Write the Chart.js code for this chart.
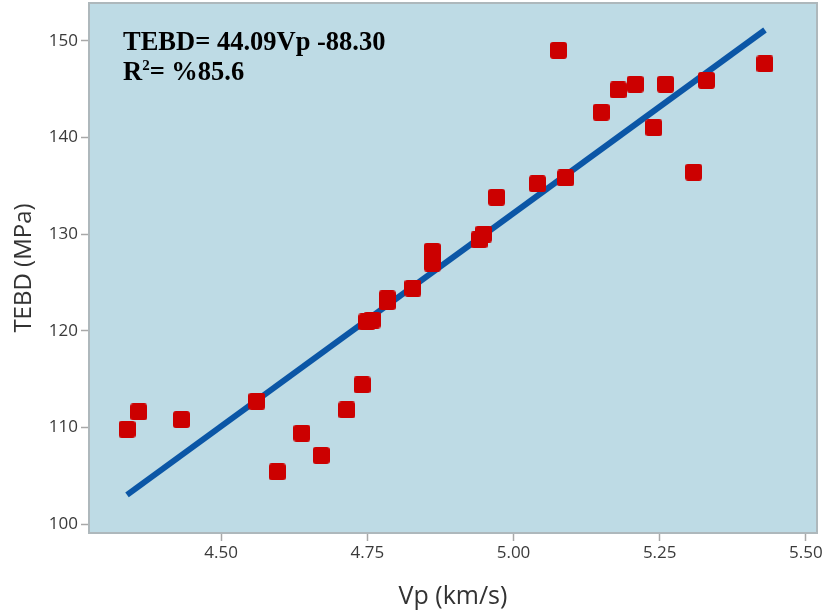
<!DOCTYPE html>
<html>
<head>
<meta charset="utf-8">
<title>TEBD vs Vp</title>
<script src="https://cdn.jsdelivr.net/npm/chart.js@4"></script>
<style>
  html, body { margin: 0; padding: 0; background: #ffffff; }
  #wrap { width: 824px; height: 616px; position: relative; }
</style>
</head>
<body>
<div id="wrap"><canvas id="chart"></canvas></div>
<script>
// P-wave velocity (km/s) of each specimen
const vp = [4.339, 4.359, 4.432, 4.561, 4.596, 4.638, 4.671, 4.715, 4.741, 4.749,
            4.758, 4.784, 4.784, 4.828, 4.861, 4.861, 4.941, 4.949, 4.971, 5.041,
            5.077, 5.089, 5.150, 5.179, 5.208, 5.240, 5.260, 5.308, 5.330, 5.430];
// Measured TEBD (MPa) of each specimen
const tebd = [109.8, 111.6, 110.8, 112.7, 105.4, 109.4, 107.1, 111.8, 114.4, 120.9,
              121.1, 123.3, 123.0, 124.4, 128.2, 127.0, 129.4, 130.0, 133.8, 135.2,
              149.0, 135.8, 142.6, 144.9, 145.5, 141.0, 145.5, 136.4, 145.9, 147.6];

// Regression coefficients: TEBD = slope * Vp + intercept
const slope = 44.09;
const intercept = -88.30;
const rSquared = 85.6;

// Axis tick values
const xTicks = [4.50, 4.75, 5.00, 5.25, 5.50];
const yTicks = [100, 110, 120, 130, 140, 150];

const points = vp.map((v, i) => ({ x: v, y: tebd[i] }));
const vpMin = Math.min(...vp);
const vpMax = Math.max(...vp);
const fitLine = [vpMin, vpMax].map(v => ({ x: v, y: slope * v + intercept }));

// Rounded square marker
function makeMarker(size, radius, color) {
  const c = document.createElement('canvas');
  c.width = size; c.height = size;
  const g = c.getContext('2d');
  g.fillStyle = color;
  g.beginPath();
  g.moveTo(radius, 0);
  g.arcTo(size, 0, size, size, radius);
  g.arcTo(size, size, 0, size, radius);
  g.arcTo(0, size, 0, 0, radius);
  g.arcTo(0, 0, size, 0, radius);
  g.closePath();
  g.fill();
  return c;
}
const marker = makeMarker(17, 3, '#CC0000');

// Plot-area fill and frame
const plotFrame = {
  id: 'plotFrame',
  beforeDatasetsDraw(chart) {
    const { ctx, chartArea: a } = chart;
    ctx.save();
    ctx.fillStyle = '#BEDBE5';
    ctx.fillRect(a.left, a.top, a.right - a.left, a.bottom - a.top);
    ctx.strokeStyle = '#AEB8BC';
    ctx.lineWidth = 2;
    ctx.strokeRect(a.left, a.top, a.right - a.left, a.bottom - a.top);
    ctx.restore();
  }
};

// Regression equation and R² text
const equationText = {
  id: 'equationText',
  afterDatasetsDraw(chart) {
    const { ctx } = chart;
    const x = 123;
    ctx.save();
    ctx.fillStyle = '#000000';
    ctx.textBaseline = 'alphabetic';
    ctx.textAlign = 'left';
    ctx.font = "bold 26.5px 'Liberation Serif', 'Times New Roman', serif";
    ctx.fillText('TEBD= ' + slope.toFixed(2) + 'Vp ' + intercept.toFixed(2), x, 50);
    ctx.fillText('R', x, 80);
    let cx = x + ctx.measureText('R').width;
    ctx.font = "bold 15px 'Liberation Serif', 'Times New Roman', serif";
    ctx.fillText('2', cx, 70);
    cx += ctx.measureText('2').width;
    ctx.font = "bold 26.5px 'Liberation Serif', 'Times New Roman', serif";
    ctx.fillText('= %' + rSquared.toFixed(1), cx, 80);
    ctx.restore();
  }
};

const tickFont = { family: "'Open Sans', sans-serif", size: 17 };
const titleFont = { family: "'Open Sans', sans-serif", size: 24 };

new Chart(document.getElementById('chart'), {
  type: 'scatter',
  data: {
    datasets: [
      {
        label: 'TEBD',
        data: points,
        order: 0,
        pointStyle: marker,
        pointRadius: 9,
        pointHoverRadius: 9
      },
      {
        type: 'line',
        label: 'Fit',
        data: fitLine,
        order: 1,
        borderColor: '#0B56A6',
        borderWidth: 6,
        borderCapStyle: 'butt',
        pointRadius: 0,
        fill: false,
        tension: 0
      }
    ]
  },
  options: {
    responsive: true,
    maintainAspectRatio: false,
    animation: false,
    layout: { autoPadding: false, padding: { top: 3, right: 7, left: 0, bottom: 0 } },
    plugins: {
      legend: { display: false },
      tooltip: { enabled: false }
    },
    scales: {
      x: {
        type: 'linear',
        min: 4.274,
        max: 5.519,
        afterBuildTicks: s => { s.ticks = xTicks.map(v => ({ value: v })); },
        afterFit: s => { s.height = 83; s.paddingLeft = 0; s.paddingRight = 0; },
        grid: { drawOnChartArea: false, tickLength: 8, tickColor: '#A8A8A8', tickWidth: 1.5 },
        border: { display: false },
        ticks: { font: tickFont, color: '#3A3A3A', padding: 2, maxRotation: 0,
                 callback: v => v.toFixed(2) },
        title: { display: true, text: 'Vp (km/s)', font: { family: "'Open Sans', sans-serif", size: 25 },
                 color: '#333333', padding: { top: 0, bottom: 4 } }
      },
      y: {
        type: 'linear',
        min: 99.07,
        max: 153.9,
        afterBuildTicks: s => { s.ticks = yTicks.map(v => ({ value: v })); },
        afterFit: s => { s.width = 89; s.paddingTop = 0; s.paddingBottom = 0; },
        grid: { drawOnChartArea: false, tickLength: 8, tickColor: '#A8A8A8', tickWidth: 1.5 },
        border: { display: false },
        ticks: { font: tickFont, color: '#3A3A3A', padding: 3,
                 callback: v => String(v) },
        title: { display: true, text: 'TEBD (MPa)', font: titleFont, color: '#333333',
                 padding: { top: 10, bottom: 0 } }
      }
    }
  },
  plugins: [plotFrame, equationText]
});
</script>
</body>
</html>
